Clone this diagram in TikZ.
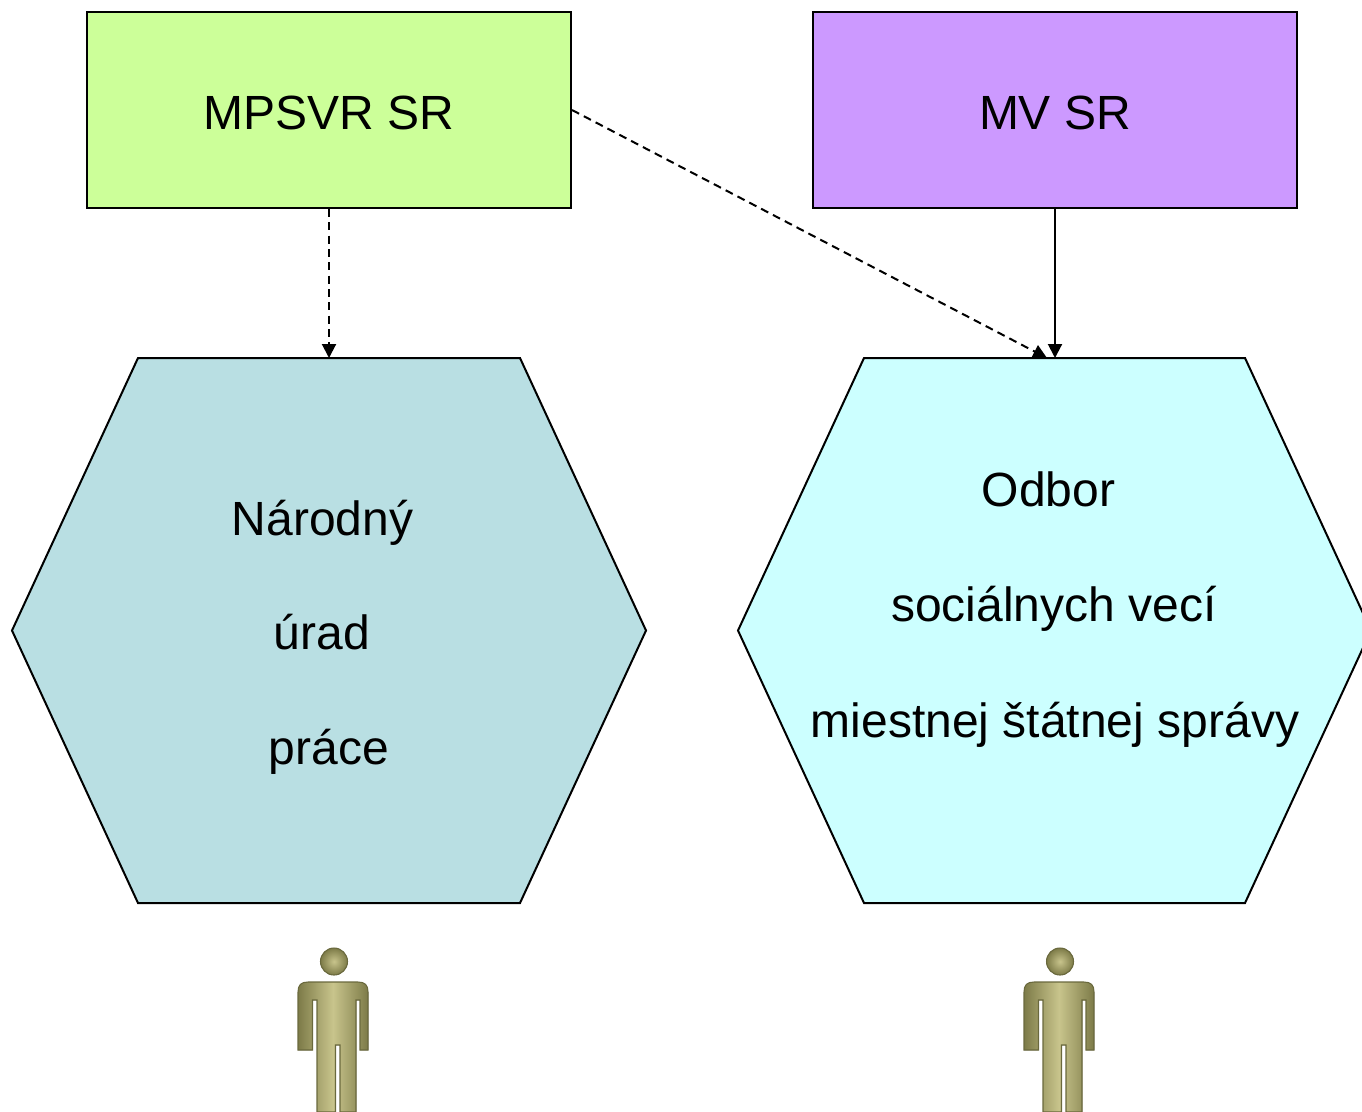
\documentclass[tikz,border=0pt]{standalone}
\usepackage{fontspec}
\setmainfont{Liberation Sans}
\usetikzlibrary{arrows.meta}
\definecolor{lgreen}{RGB}{204,255,153}
\definecolor{lviolet}{RGB}{204,153,255}
\definecolor{hexblue}{RGB}{185,223,227}
\definecolor{hexcyan}{RGB}{204,255,255}
\definecolor{figlight}{RGB}{200,196,140}
\definecolor{figdark}{RGB}{125,123,72}
\tikzset{
  orgbox/.style={draw=black, line width=1.5},
  hexa/.style={draw=black, line width=1.5},
  lbl/.style={anchor=base, inner sep=0pt, font=\fontsize{36}{40}\selectfont},
  conn/.style={draw=black, line width=1.5, -{Triangle[length=10.5pt,width=10.5pt]}},
  dconn/.style={conn, dash pattern=on 6pt off 4pt},
  person/.style={left color=figdark, right color=figdark, middle color=figlight, draw=figdark!85!black, line width=0.8},
  personhead/.style={inner color=figlight, outer color=figdark, draw=figdark!85!black, line width=0.8},
}
\newcommand{\personfig}[1]{%
  \begin{scope}[shift={(#1,0)}]
    \filldraw[personhead] (334,961.5) circle (13.5);
    \filldraw[person] (298,1050) -- (298,992) .. controls (298,985) and (301,982) .. (308,982)
      -- (358,982) .. controls (365,982) and (368,985) .. (368,992) -- (368,1050) -- (360,1050)
      -- (360,1000) -- (356,1000) -- (356,1112) -- (340,1112) -- (340,1045) -- (335.5,1045)
      -- (335.5,1112) -- (317,1112) -- (317,1000) -- (312.5,1000) -- (312.5,1050) -- cycle;
  \end{scope}}
\begin{document}
\begin{tikzpicture}[x=0.75pt,y=-0.75pt]
\useasboundingbox (0,0) rectangle (1362,1111);
\clip (0,0) rectangle (1362,1111);
% boxes
\node[orgbox, fill=lgreen, minimum width=484*0.75pt, minimum height=196*0.75pt, inner sep=0pt] (mps) at (329,110) {};
\node[orgbox, fill=lviolet, minimum width=484*0.75pt, minimum height=196*0.75pt, inner sep=0pt] (mv) at (1055,110) {};
\node[lbl] (mpst) at (329,129) {MPSVR SR};
\node[lbl] (mvt) at (1055,129) {MV SR};
% hexagons
\draw[hexa, fill=hexblue] (138,358) -- (520,358) -- (646,630.5) -- (520,903) -- (138,903) -- (12,630.5) -- cycle;
\draw[hexa, fill=hexcyan] (864,358) -- (1245,358) -- (1371,630.5) -- (1245,903) -- (864,903) -- (738,630.5) -- cycle;
\coordinate (h1top) at (329,358);
\coordinate (h2topA) at (1047,358);
\coordinate (h2topB) at (1055,358);
\node[lbl] (t1) at (322.5,535) {Národný};
\node[lbl] (t2) at (322,649) {úrad};
\node[lbl] (t3) at (329,764) {práce};
\node[lbl] (t4) at (1048.5,506) {Odbor};
\node[lbl] (t5) at (1054,621) {sociálnych vecí};
\node[lbl] (t6) at (1055,737) {miestnej štátnej správy};
% connectors
\draw[dconn] (mps.south) -- (h1top);
\draw[dconn] (mps.east) -- (h2topA);
\draw[conn] (mv.south) -- (h2topB);
% people
\personfig{0}
\personfig{726}
\end{tikzpicture}
\end{document}
